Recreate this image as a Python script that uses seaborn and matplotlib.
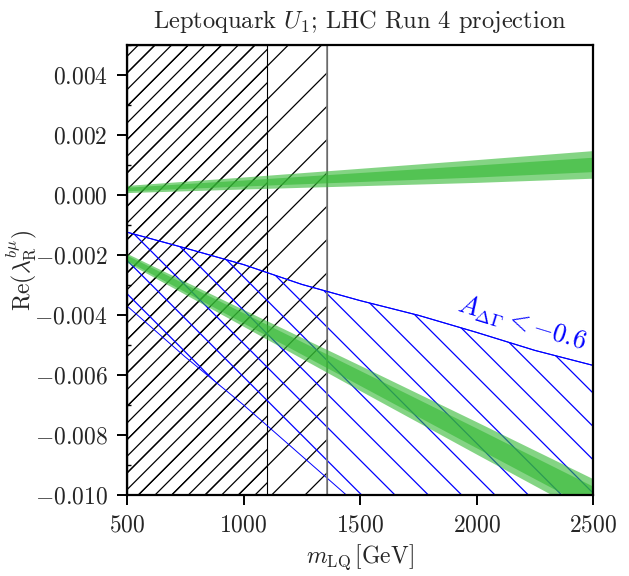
import numpy as np
import pandas as pd
import seaborn as sns
import matplotlib.pyplot as plt
from matplotlib.ticker import MultipleLocator, FuncFormatter

# LQ mass grid [GeV] for the two solution bands
m_lq = [500, 1000, 1500, 2000, 2500]

# upper solution: central value, 1 sigma and 2 sigma half widths
upper_center = [0.00020, 0.00040, 0.00060, 0.00080, 0.00102]
upper_1sig = [0.00006, 0.00010, 0.00015, 0.00020, 0.00024]
upper_2sig = [0.00012, 0.00020, 0.00029, 0.00038, 0.00046]

# lower solution
lower_center = [-0.0021, -0.0041, -0.0061, -0.0081, -0.0101]
lower_1sig = [0.00009, 0.00017, 0.00025, 0.00033, 0.00039]
lower_2sig = [0.00015, 0.00028, 0.00042, 0.00054, 0.00064]

# region with A_DeltaGamma < -0.6
adg_mass = [500, 750, 1000, 1250, 1500, 1750, 2000, 2250, 2500]
adg_top = [-0.00124, -0.00177, -0.00232, -0.00298, -0.00352, -0.00401, -0.00458, -0.00518, -0.00568]
adg_bottom = [-0.0037, -0.0054, -0.0070, -0.0087, -0.0104, -0.0121, -0.0138, -0.0155, -0.0172]

# direct search exclusions [GeV]
excl_current = 1100
excl_run4 = 1360

x_ticks = [500, 1000, 1500, 2000, 2500]
y_ticks = [-0.010, -0.008, -0.006, -0.004, -0.002, 0.000, 0.002, 0.004]

sns.set_theme(style="ticks")
plt.rcParams["font.family"] = "serif"
plt.rcParams["font.serif"] = ["cmr10", "DejaVu Serif"]
plt.rcParams["mathtext.fontset"] = "cm"
plt.rcParams["axes.unicode_minus"] = False
plt.rcParams["axes.formatter.use_mathtext"] = True
plt.rcParams["hatch.linewidth"] = 0.45

fig = plt.figure(figsize=(6.29 / 2, 5.76 / 2), dpi=200)
ax = fig.add_axes([0.202, 0.1406, 0.741, 0.7813])

ylo, yhi = -0.010, 0.005

# hatched exclusion regions
ax.fill_betweenx([ylo, yhi], 500, excl_run4, facecolor="none", edgecolor="black",
                 hatch="//", linewidth=0.4, zorder=1)
ax.axvline(excl_run4, color="0.5", linewidth=0.6, zorder=1.5)
ax.fill_betweenx([ylo, yhi], 500, excl_current, facecolor="none", edgecolor="black",
                 hatch="////", linewidth=0.4, zorder=1)

# A_DeltaGamma region
ax.fill_between(adg_mass, adg_bottom, adg_top, facecolor="none", edgecolor="blue",
                hatch="\\\\", linewidth=0.35, zorder=1)
adg = pd.DataFrame({"m": adg_mass, "top": adg_top})
sns.lineplot(data=adg, x="m", y="top", color="blue", linewidth=0.4, ax=ax, zorder=2)
ax.text(2195, -0.00425, r"$A_{\Delta\Gamma} < -0.6$", color="blue", fontsize=9.5,
        rotation=-17, ha="center", va="center", rotation_mode="anchor")

# solution bands
green = (0.2, 0.72, 0.2)
for c, s1, s2 in [(upper_center, upper_1sig, upper_2sig),
                  (lower_center, lower_1sig, lower_2sig)]:
    c, s1, s2 = np.array(c), np.array(s1), np.array(s2)
    ax.fill_between(m_lq, c - s2, c + s2, color=green, alpha=0.6, lw=0, zorder=3)
    ax.fill_between(m_lq, c - s1, c + s1, color=green, alpha=0.6, lw=0, zorder=3)

ax.set_xlim(500, 2500)
ax.set_ylim(ylo, yhi)
ax.set_xticks(x_ticks)
ax.set_yticks(y_ticks)
ax.yaxis.set_minor_locator(MultipleLocator(0.001))
ax.xaxis.set_major_formatter(FuncFormatter(lambda v, _: f"${v:.0f}$"))
ax.yaxis.set_major_formatter(FuncFormatter(lambda v, _: f"${round(v, 6) + 0.0:.3f}$"))
ax.tick_params(which="major", direction="out", length=3.5, width=0.7, labelsize=8.5, color="black")
ax.tick_params(which="minor", direction="in", length=1.5, width=0.5, color="black")
for sp in ax.spines.values():
    sp.set_linewidth(0.8)
    sp.set_color("black")
    sp.set_zorder(5)

ax.set_xlabel(r"$m_{\rm LQ}\,[\rm GeV]$", fontsize=8.5, labelpad=2)
ax.set_ylabel(r"${\rm Re}(\lambda^{b\mu}_{\rm R})$", fontsize=8.5)
ax.yaxis.set_label_coords(-0.19, 0.5)
ax.set_title(r"Leptoquark $U_1$; LHC Run 4 projection", fontsize=8.8, pad=6)

fig.savefig("out.png", dpi=200)
